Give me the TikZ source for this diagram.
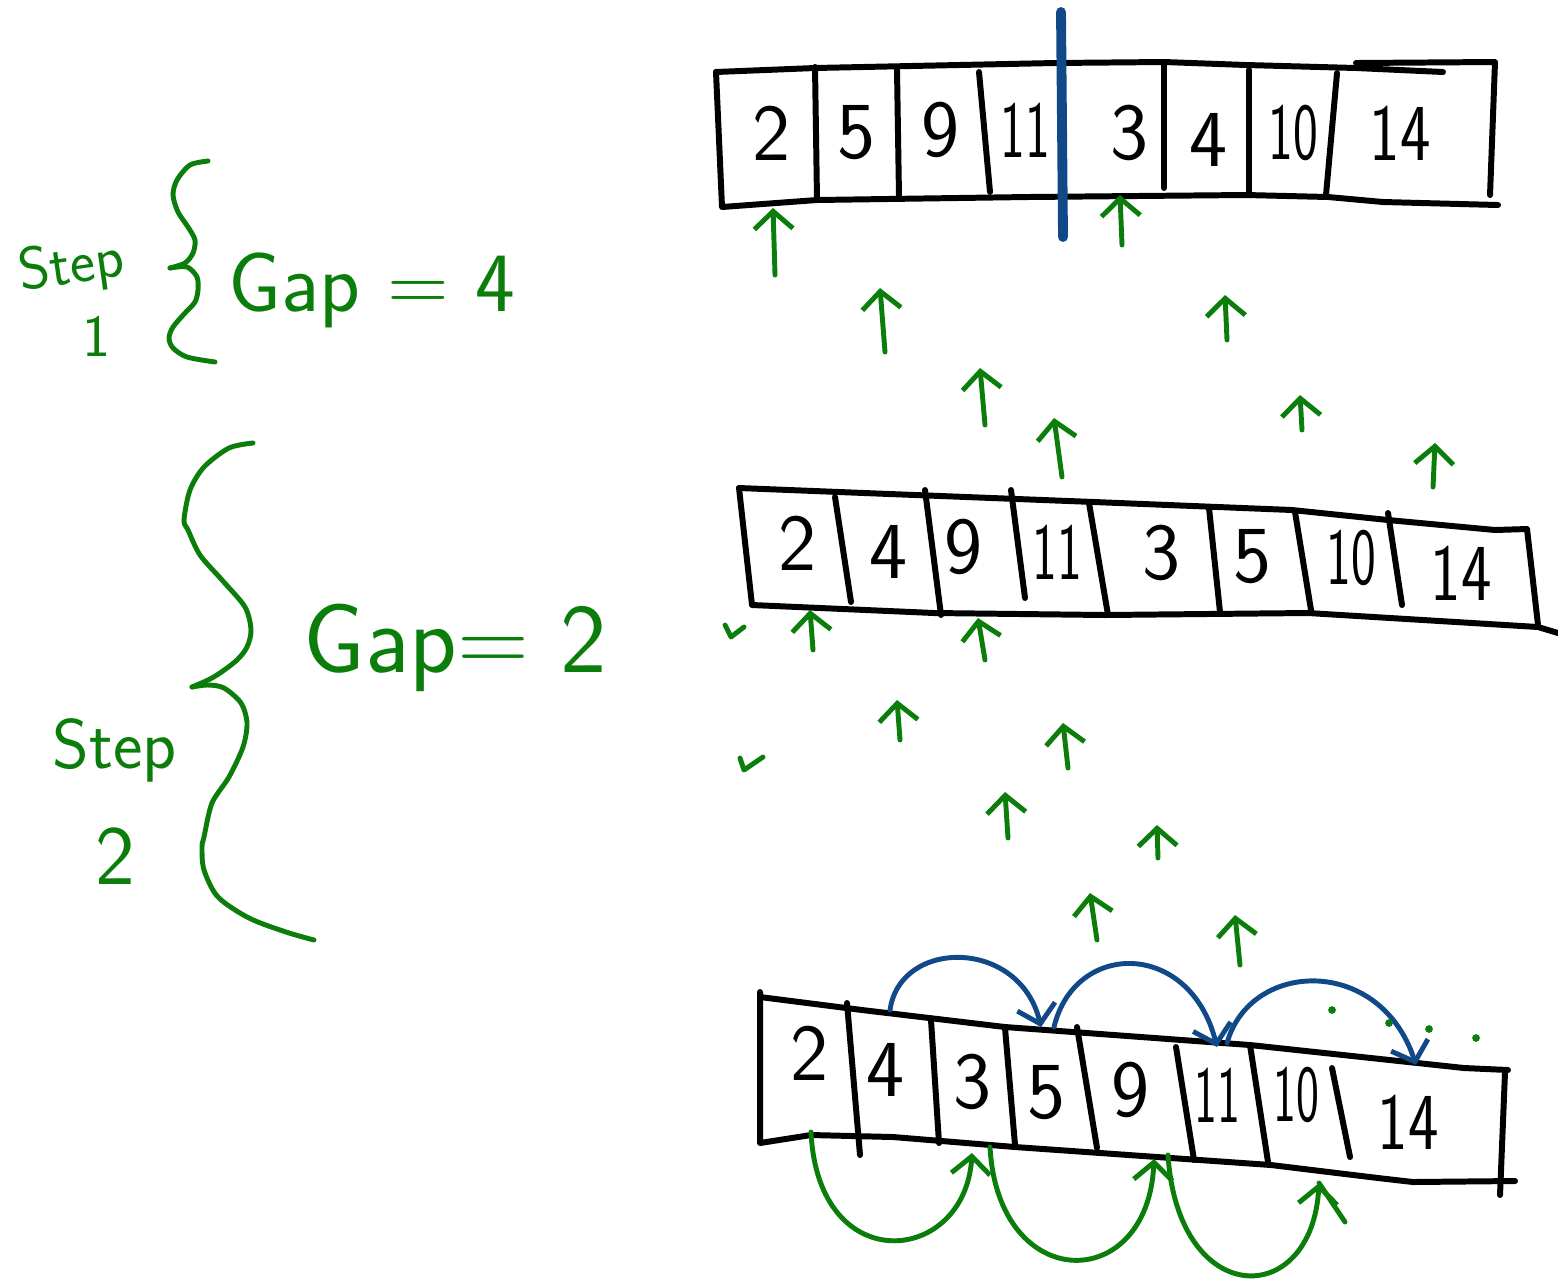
\documentclass[tikz,border=0pt]{standalone}
\usepackage{fontspec}
\usepackage{tikz}
\usetikzlibrary{positioning,arrows.meta}

\definecolor{inkgreen}{RGB}{10,125,10}
\definecolor{inkblue}{RGB}{16,72,136}

\tikzset{
  cell/.style={line width=1.7pt, line cap=round, line join=round},
  ink/.style={inkgreen, line width=1.4pt, line cap=round, line join=round},
  swapink/.style={inkblue, line width=1.4pt, line cap=round, line join=round},
  digit/.style={font=\fontsize{23}{23}\selectfont\sffamily},
  note/.style={inkgreen, font=\fontsize{24}{24}\selectfont\sffamily},
  >={Straight Barb[length=5pt,width=11pt]}
}

\begin{document}
\begin{tikzpicture}[x=0.01cm, y=-0.01cm]
\useasboundingbox (0,0) rectangle (1558,1281);

% first pass, gap 4
\draw[cell] (716,72) -- (815,68) -- (1055,63) -- (1164,62) -- (1246,65) -- (1356,68) -- (1443,72);
\draw[cell] (1356,63) -- (1495,62) -- (1490,195);
\draw[cell] (716,72) -- (722,207) -- (817,200) -- (1028,197) -- (1246,195) -- (1328,197) -- (1383,202) -- (1498,205);
\foreach \xa/\ya/\xb/\yb in {815/67/817/200, 897/70/899/197, 979/72/990/192, 1164/62/1164/188, 1249/70/1249/192, 1337/73/1326/195}
  \draw[cell] (\xa,\ya) -- (\xb,\yb);
\foreach \v/\x/\y/\s [count=\i] in {2/771/133/1, 5/856/133/1, 9/940/130/1, 11/1025/130/.65, 3/1129/133/1, 4/1208/140/1, 10/1293/133/.65, 14/1400/133/.8}
  \node[digit, xscale=\s] (t\i) at (\x,\y) {\v};
\draw[inkblue, line width=2.8pt, line cap=round] (1061,12) -- (1063,237);

% second pass, gap 2
\draw[cell] (739,488) -- (864,493) -- (1094,502) -- (1292,510) -- (1388,520) -- (1495,530) -- (1527,529) -- (1538,625);
\draw[cell] (739,488) -- (752,605) -- (934,613) -- (1105,615) -- (1308,613) -- (1538,627) -- (1558,633);
\foreach \xa/\ya/\xb/\yb in {835/497/851/602, 925/490/941/615, 1011/490/1025/598, 1089/503/1108/615, 1209/508/1220/612, 1295/512/1311/610, 1388/513/1402/605}
  \draw[cell] (\xa,\ya) -- (\xb,\yb);
\foreach \v/\x/\y/\s [count=\i] in {2/797/543/1, 4/888/552/1, 9/963/547/1, 11/1057/552/.65, 3/1161/553/1, 5/1252/557/1, 10/1351/558/.65, 14/1461/573/.8}
  \node[digit, xscale=\s] (m\i) at (\x,\y) {\v};

% last pass
\draw[cell] (760,992) -- (760,1143) -- (811,1135) -- (893,1137) -- (1015,1147) -- (1271,1165) -- (1378,1178) -- (1413,1182) -- (1515,1181);
\draw[cell] (760,997) -- (862,1010) -- (1005,1027) -- (1250,1045) -- (1464,1068) -- (1508,1070);
\draw[cell] (1505,1072) -- (1500,1195);
\foreach \xa/\ya/\xb/\yb in {847/1003/860/1155, 931/1020/939/1143, 1005/1028/1015/1145, 1077/1027/1097/1148, 1176/1047/1194/1160, 1250/1045/1268/1162, 1332/1068/1350/1157}
  \draw[cell] (\xa,\ya) -- (\xb,\yb);
\foreach \v/\x/\y/\s [count=\i] in {2/809/1053/1, 4/885/1070/1, 3/972/1082/1, 5/1046/1093/1, 9/1130/1090/1, 11/1217/1095/.6, 10/1296/1095/.6, 14/1408/1122/.8}
  \node[digit, xscale=\s] (b\i) at (\x,\y) {\v};

% compared pairs
\foreach \xa/\ya/\xb/\yb in {775/275/773/208, 1122/245/1120/195,
    885/352/880/288, 985/425/980/368, 1062/477/1054/418, 1227/340/1225/295, 1302/430/1300/395, 1433/487/1435/443,
    813/650/810/610, 985/660/978/618, 900/740/897/700, 1068/768/1063/723,
    1008/838/1005/792, 1158/858/1157/825, 1097/940/1090/893, 1240/965/1235/915}
  \draw[ink,->] (\xa,\ya) -- (\xb,\yb);
\draw[ink] (725,625) -- (731,637) -- (744,627);
\draw[ink] (740,758) -- (744,770) -- (763,757);

% swaps
\draw[swapink,->] (890,1010) .. controls (900,938) and (1020,938) .. (1041,1027);
\draw[swapink,->] (1054,1027) .. controls (1075,940) and (1190,940) .. (1217,1047);
\draw[swapink,->] (1227,1043) .. controls (1250,960) and (1380,955) .. (1416,1065);
\foreach \x/\y in {1332/1010, 1389/1023, 1429/1029, 1476/1038}
  \fill[inkgreen] (\x,\y) circle (1.1pt);
\draw[ink,->] (811,1132) .. controls (818,1280) and (965,1265) .. (972,1153);
\draw[ink,->] (990,1147) .. controls (998,1295) and (1148,1295) .. (1154,1159);
\draw[ink,->] (1168,1155) .. controls (1178,1310) and (1312,1310) .. (1319,1183);
\draw[ink] (1319,1183) -- (1345,1222);

% braces and labels
\draw[ink] plot[smooth] coordinates {(208,161) (190,165) (177,180) (173,195) (178,212) (188,227) (195,240) (193,253) (185,263) (170,268)};
\draw[ink] plot[smooth] coordinates {(170,268) (187,267) (197,277) (198,290) (195,302) (185,313) (173,327) (169,338) (173,348) (187,357) (215,362)};
\draw[ink] plot[smooth] coordinates {(253,443) (229,448) (204,467) (190,490) (184,520) (188,530) (200,555) (222,580) (245,607) (251,630) (247,647) (237,660) (220,673) (208,680) (192,687)};
\draw[ink] plot[smooth] coordinates {(192,687) (208,685) (224,688) (241,703) (247,723) (243,747) (229,777) (212,803) (204,837) (202,847) (204,870) (218,897) (249,918) (286,932) (314,940)};

\node[note, font=\fontsize{17}{17}\selectfont\sffamily, rotate=8] (step1) at (72,268) {Step};
\node[note, font=\fontsize{17}{17}\selectfont\sffamily] (one) at (97,336) {1};
\node[note] (gap4) at (372,290) {Gap = 4};
\node[note, font=\fontsize{20}{20}\selectfont\sffamily] (step2) at (115,750) {Step};
\node[note, below=6pt of step2] (two) {2};
\node[note, font=\fontsize{28}{28}\selectfont\sffamily] (gap2) at (455,648) {Gap= 2};
\end{tikzpicture}
\end{document}
